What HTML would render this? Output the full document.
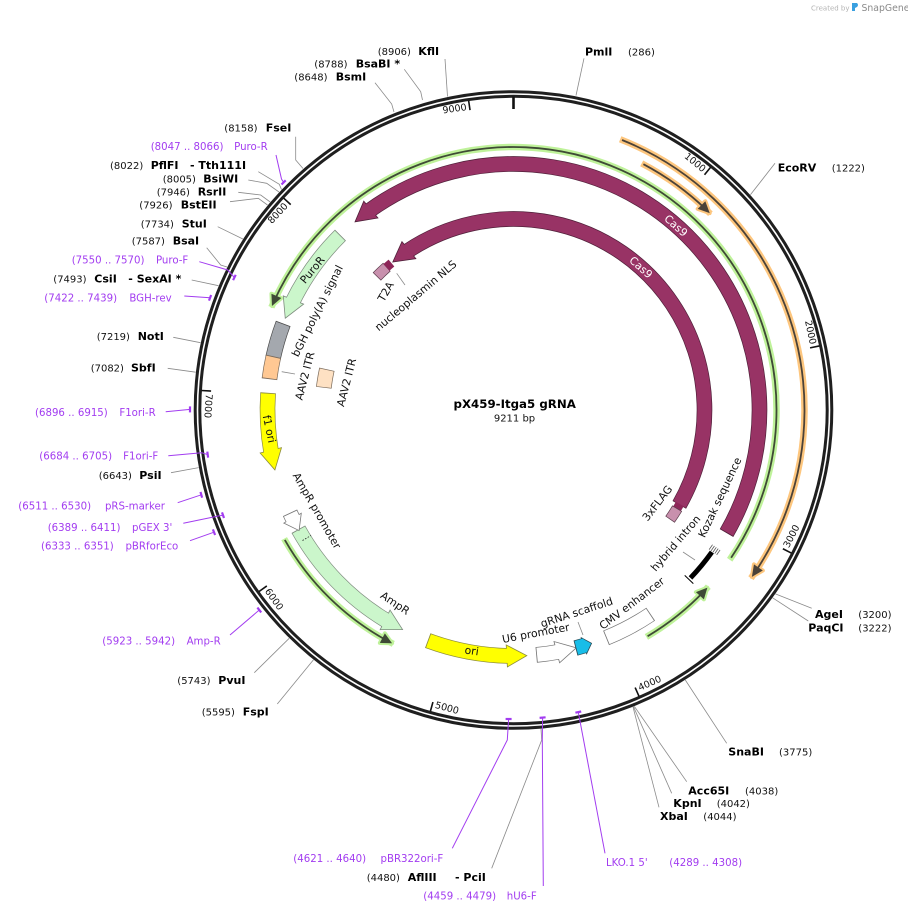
<!DOCTYPE html>
<html><head><meta charset="utf-8"><style>
html,body{margin:0;padding:0;background:#fff;}
svg{display:block;}
text{font-family:"DejaVu Sans","Liberation Sans",sans-serif;}
.n{font-size:10px;fill:#111;}
.b{font-size:11px;font-weight:bold;fill:#000;}
.p{font-size:10.2px;fill:#a23cf0;}
.f{font-size:10.8px;fill:#111;}
.w{font-size:10.8px;fill:#fff;}
.t{font-size:9.5px;fill:#111;}
.ld{fill:none;stroke:#8a8a8a;stroke-width:0.8;}
.lp{fill:none;stroke:#a23cf0;stroke-width:1;}
.pm{stroke:#a23cf0;stroke-width:2.2;}
.tk{stroke:#111;stroke-width:1.6;}
</style></head><body>
<svg width="908" height="914" viewBox="0 0 908 914" xmlns="http://www.w3.org/2000/svg">
<rect width="908" height="914" fill="#fff"/>

<!-- header -->
<text x="811" y="10.5" style="font-size:7px;fill:#b4b4b4">Created by</text>
<path d="M852,3 L857,3 Q859,5 857,7 L855,8 L855,11 L852,11 Z" fill="#3aa0e0"/>
<text x="861.5" y="11" style="font-size:9.3px;fill:#8a8a8a">SnapGene</text>

<!-- ORF halos / lines (green r=263) -->
<g fill="none">
<circle cx="513.5" cy="410" r="263" stroke="#bff29a" stroke-width="6.5" stroke-dasharray="879.94 2000" transform="rotate(203.0 513.5 410)"/>
<circle cx="513.5" cy="410" r="263" stroke="#bff29a" stroke-width="6.5" stroke-dasharray="153.77 2000" transform="rotate(117.2 513.5 410)"/>
<circle cx="513.5" cy="410" r="263" stroke="#bff29a" stroke-width="6.5" stroke-dasharray="80.1 2000" transform="rotate(42.2 513.5 410)"/>
<circle cx="513.5" cy="410" r="291" stroke="#fdc67e" stroke-width="6.5" stroke-dasharray="527.19 2000" transform="rotate(-68.5 513.5 410)"/>
<circle cx="513.5" cy="410" r="278" stroke="#fdc67e" stroke-width="6.5" stroke-dasharray="85.59 2000" transform="rotate(-62.54 513.5 410)"/>
</g>
<g stroke-linejoin="round">
<polygon points="513.5,147 524.5,141.7 524.5,152.5" fill="#bff29a" stroke="#bff29a" stroke-width="4" transform="rotate(293.3 513.5 410)"/>
<polygon points="513.5,147 524.5,141.7 524.5,152.5" fill="#bff29a" stroke="#bff29a" stroke-width="4" transform="rotate(207.5 513.5 410)"/>
<polygon points="513.5,147 524.5,141.7 524.5,152.5" fill="#bff29a" stroke="#bff29a" stroke-width="4" transform="rotate(132.5 513.5 410)"/>
<polygon points="513.5,119 502,113.7 502,124.5" fill="#fdc67e" stroke="#fdc67e" stroke-width="4" transform="rotate(125 513.5 410)"/>
<polygon points="513.5,132 502,126.7 502,137.5" fill="#fdc67e" stroke="#fdc67e" stroke-width="4" transform="rotate(44.9 513.5 410)"/>
</g>
<g fill="none">
<circle cx="513.5" cy="410" r="263" stroke="#3f4a36" stroke-width="1.8" stroke-dasharray="871.45 2000" transform="rotate(204.3 513.5 410)"/>
<circle cx="513.5" cy="410" r="263" stroke="#3f4a36" stroke-width="1.8" stroke-dasharray="146.43 2000" transform="rotate(118.5 513.5 410)"/>
<circle cx="513.5" cy="410" r="263" stroke="#3f4a36" stroke-width="1.8" stroke-dasharray="72.75 2000" transform="rotate(43.5 513.5 410)"/>
<circle cx="513.5" cy="410" r="291" stroke="#4b4238" stroke-width="1.8" stroke-dasharray="518.56 2000" transform="rotate(-68.1 513.5 410)"/>
<circle cx="513.5" cy="410" r="278" stroke="#4b4238" stroke-width="1.8" stroke-dasharray="77.83 2000" transform="rotate(-62.14 513.5 410)"/>
</g>
<g>
<polygon points="513.5,147 524.5,141.7 524.5,152.5" fill="#3f4a36" transform="rotate(293.3 513.5 410)"/>
<polygon points="513.5,147 524.5,141.7 524.5,152.5" fill="#3f4a36" transform="rotate(207.5 513.5 410)"/>
<polygon points="513.5,147 524.5,141.7 524.5,152.5" fill="#3f4a36" transform="rotate(132.5 513.5 410)"/>
<polygon points="513.5,119 502,113.7 502,124.5" fill="#4b4238" transform="rotate(125 513.5 410)"/>
<polygon points="513.5,132 502,126.7 502,137.5" fill="#4b4238" transform="rotate(44.9 513.5 410)"/>
</g>

<!-- Track A features r=246 -->
<g fill="none">
<circle cx="513.5" cy="410" r="246" stroke="#50203a" stroke-width="15.6" stroke-dasharray="669.53 2000" transform="rotate(234.06 513.5 410)"/>
<polygon points="513.5,164 533.5,153.8 533.5,175.8" fill="#983365" stroke="#50203a" stroke-width="0.8" transform="rotate(319.9 513.5 410)"/>
<circle cx="513.5" cy="410" r="246" stroke="#983365" stroke-width="14.2" stroke-dasharray="668.67 2000" transform="rotate(234.06 513.5 410)"/>
<circle cx="513.5" cy="410" r="246" stroke="#7d8b7d" stroke-width="15.6" stroke-dasharray="82.61 2000" transform="rotate(206.06 513.5 410)"/>
<polygon points="513.5,164 533.5,153.8 533.5,175.8" fill="#cbf6cb" stroke="#7d8b7d" stroke-width="0.8" transform="rotate(291.9 513.5 410)"/>
<circle cx="513.5" cy="410" r="246" stroke="#cbf6cb" stroke-width="14.2" stroke-dasharray="81.75 2000" transform="rotate(206.06 513.5 410)"/>
<circle cx="513.5" cy="410" r="246" stroke="#4a4a4a" stroke-width="15.6" stroke-dasharray="36.07 2000" transform="rotate(192.2 513.5 410)"/>
<circle cx="513.5" cy="410" r="246" stroke="#a4a8ae" stroke-width="14.2" stroke-dasharray="34.35 2000" transform="rotate(192.4 513.5 410)"/>
<circle cx="513.5" cy="410" r="246" stroke="#7a6a5a" stroke-width="15.6" stroke-dasharray="23.18 2000" transform="rotate(187.2 513.5 410)"/>
<circle cx="513.5" cy="410" r="246" stroke="#ffc893" stroke-width="14.2" stroke-dasharray="21.47 2000" transform="rotate(187.4 513.5 410)"/>
<circle cx="513.5" cy="410" r="246" stroke="#8c8c3c" stroke-width="15.6" stroke-dasharray="59.85 2000" transform="rotate(170.06 513.5 410)"/>
<polygon points="513.5,164 533.5,153.8 533.5,175.8" fill="#ffff00" stroke="#8c8c3c" stroke-width="0.8" transform="rotate(255.9 513.5 410)"/>
<circle cx="513.5" cy="410" r="246" stroke="#ffff00" stroke-width="14.2" stroke-dasharray="58.99 2000" transform="rotate(170.06 513.5 410)"/>
<circle cx="513.5" cy="410" r="246" stroke="#7d8b7d" stroke-width="15.6" stroke-dasharray="128.81 2000" transform="rotate(121.0 513.5 410)"/>
<polygon points="513.5,164 533.5,153.8 533.5,175.8" fill="#cbf6cb" stroke="#7d8b7d" stroke-width="0.8" transform="rotate(206.8 513.5 410)"/>
<circle cx="513.5" cy="410" r="246" stroke="#cbf6cb" stroke-width="14.2" stroke-dasharray="127.95 2000" transform="rotate(121.0 513.5 410)"/>
<circle cx="513.5" cy="410" r="246" stroke="#777" stroke-width="15.6" stroke-dasharray="8.11 2000" transform="rotate(153.41 513.5 410)"/>
<polygon points="513.5,164 527.5,154.4 527.5,174.4" fill="#fff" stroke="#777" stroke-width="0.8" transform="rotate(240.65 513.5 410)"/>
<circle cx="513.5" cy="410" r="246" stroke="#fff" stroke-width="14.2" stroke-dasharray="7.26 2000" transform="rotate(153.41 513.5 410)"/>
<circle cx="513.5" cy="410" r="246" stroke="#8c8c3c" stroke-width="15.6" stroke-dasharray="83.04 2000" transform="rotate(91.06 513.5 410)"/>
<polygon points="513.5,164 533.5,153.8 533.5,175.8" fill="#ffff00" stroke="#8c8c3c" stroke-width="0.8" transform="rotate(176.9 513.5 410)"/>
<circle cx="513.5" cy="410" r="246" stroke="#ffff00" stroke-width="14.2" stroke-dasharray="82.18 2000" transform="rotate(91.06 513.5 410)"/>
<circle cx="513.5" cy="410" r="246" stroke="#777" stroke-width="15.6" stroke-dasharray="22.93 2000" transform="rotate(79.36 513.5 410)"/>
<polygon points="513.5,164 533.5,153.8 533.5,175.8" fill="#fff" stroke="#777" stroke-width="0.8" transform="rotate(165.2 513.5 410)"/>
<circle cx="513.5" cy="410" r="246" stroke="#fff" stroke-width="14.2" stroke-dasharray="22.07 2000" transform="rotate(79.36 513.5 410)"/>
<circle cx="513.5" cy="410" r="246" stroke="#2a4a55" stroke-width="15.6" stroke-dasharray="10.05 2000" transform="rotate(73.06 513.5 410)"/>
<polygon points="513.5,164 521.5,155.6 521.5,172.6" fill="#18bde8" stroke="#2a4a55" stroke-width="0.8" transform="rotate(161.5 513.5 410)"/>
<circle cx="513.5" cy="410" r="246" stroke="#18bde8" stroke-width="14.2" stroke-dasharray="9.19 2000" transform="rotate(73.06 513.5 410)"/>
<circle cx="513.5" cy="410" r="246" stroke="#777" stroke-width="15.6" stroke-dasharray="50.66 2000" transform="rotate(56.1 513.5 410)"/>
<circle cx="513.5" cy="410" r="246" stroke="#fff" stroke-width="14.2" stroke-dasharray="48.95 2000" transform="rotate(56.3 513.5 410)"/>
<circle cx="513.5" cy="410" r="244" stroke="#000" stroke-width="5" stroke-dasharray="33.64 2000" transform="rotate(35.6 513.5 410)"/>
</g>
<line x1="513.5" y1="160" x2="513.5" y2="172" stroke="#000" stroke-width="1" transform="rotate(134 513.5 410)"/>
<g stroke="#555" stroke-width="0.8" transform="rotate(124.8 513.5 410)">
<line x1="510.5" y1="160.5" x2="516.5" y2="160.5"/>
<line x1="510.5" y1="162.8" x2="516.5" y2="162.8"/>
<line x1="510.5" y1="165.1" x2="516.5" y2="165.1"/>
<line x1="510.5" y1="167.4" x2="516.5" y2="167.4"/>
<line x1="510.5" y1="169.7" x2="516.5" y2="169.7"/>
</g>
<line x1="302.5" y1="540.5" x2="311" y2="535.5" stroke="#222" stroke-width="0.8" stroke-dasharray="1.5 1.5"/>

<!-- Track B r=191 -->
<g fill="none">
<circle cx="513.5" cy="410" r="191" stroke="#50203a" stroke-width="15.6" stroke-dasharray="511.37 2000" transform="rotate(236.3 513.5 410)"/>
<polygon points="513.5,219 533.5,209 533.5,231" fill="#983365" stroke="#50203a" stroke-width="0.8" transform="rotate(320.8 513.5 410)"/>
<circle cx="513.5" cy="410" r="191" stroke="#983365" stroke-width="14.2" stroke-dasharray="510.71 2000" transform="rotate(236.3 513.5 410)"/>
<circle cx="513.5" cy="410" r="191" stroke="#5a3a4a" stroke-width="11.4" stroke-dasharray="14.0 2000" transform="rotate(224.3 513.5 410)"/>
<circle cx="513.5" cy="410" r="191" stroke="#c890ad" stroke-width="10" stroke-dasharray="12.67 2000" transform="rotate(224.5 513.5 410)"/>
<circle cx="513.5" cy="410" r="191" stroke="#8d2558" stroke-width="9" stroke-dasharray="6.67 2000" transform="rotate(228.3 513.5 410)"/>
<circle cx="513.5" cy="410" r="191" stroke="#7a6a5a" stroke-width="15.6" stroke-dasharray="18.67 2000" transform="rotate(186.7 513.5 410)"/>
<circle cx="513.5" cy="410" r="191" stroke="#fee1c3" stroke-width="14.2" stroke-dasharray="17.33 2000" transform="rotate(186.9 513.5 410)"/>
<circle cx="513.5" cy="410" r="191" stroke="#8d2558" stroke-width="9" stroke-dasharray="5.67 2000" transform="rotate(29.5 513.5 410)"/>
<circle cx="513.5" cy="410" r="191" stroke="#5a3a4a" stroke-width="11.4" stroke-dasharray="13.33 2000" transform="rotate(31.0 513.5 410)"/>
<circle cx="513.5" cy="410" r="191" stroke="#c890ad" stroke-width="10" stroke-dasharray="12.0 2000" transform="rotate(31.2 513.5 410)"/>
</g>

<!-- backbone ring -->
<circle cx="513.5" cy="410" r="316" fill="none" stroke="#1f1f1f" stroke-width="7.6"/>
<circle cx="513.5" cy="410" r="316" fill="none" stroke="#fff" stroke-width="1.6"/>

<!-- ticks -->
<line x1="513.5" y1="96.5" x2="513.5" y2="109" stroke="#111" stroke-width="2.6"/>
<g class="tk">
<line x1="513.5" y1="97.5" x2="513.5" y2="107" transform="rotate(39.08 513.5 410)"/>
<line x1="513.5" y1="97.5" x2="513.5" y2="107" transform="rotate(78.17 513.5 410)"/>
<line x1="513.5" y1="97.5" x2="513.5" y2="107" transform="rotate(117.25 513.5 410)"/>
<line x1="513.5" y1="97.5" x2="513.5" y2="107" transform="rotate(156.33 513.5 410)"/>
<line x1="513.5" y1="97.5" x2="513.5" y2="107" transform="rotate(195.42 513.5 410)"/>
<line x1="513.5" y1="97.5" x2="513.5" y2="107" transform="rotate(234.5 513.5 410)"/>
<line x1="513.5" y1="97.5" x2="513.5" y2="107" transform="rotate(273.58 513.5 410)"/>
<line x1="513.5" y1="97.5" x2="513.5" y2="107" transform="rotate(312.67 513.5 410)"/>
<line x1="513.5" y1="97.5" x2="513.5" y2="107" transform="rotate(351.75 513.5 410)"/>
</g>
<g class="t">
<text transform="rotate(39.08 513.5 410)" x="510.5" y="106.5" text-anchor="end">1000</text>
<text transform="rotate(78.17 513.5 410)" x="510.5" y="106.5" text-anchor="end">2000</text>
<text transform="rotate(312.67 513.5 410)" x="510.5" y="106.5" text-anchor="end">8000</text>
<text transform="rotate(351.75 513.5 410)" x="510.5" y="106.5" text-anchor="end">9000</text>
<text transform="rotate(-62.75 513.5 410)" x="516.5" y="718">3000</text>
<text transform="rotate(-23.67 513.5 410)" x="516.5" y="718">4000</text>
<text transform="rotate(15.42 513.5 410)" x="516.5" y="718">5000</text>
<text transform="rotate(54.5 513.5 410)" x="516.5" y="718">6000</text>
<text transform="rotate(93.58 513.5 410)" x="516.5" y="718">7000</text>
</g>

<!-- enzyme leader lines -->
<g class="ld">
<polyline points="445,59 447.5,96.5"/>
<polyline points="404.3,69.3 420.7,91.7 422.5,100"/>
<polyline points="375,82.7 391.7,104 394,112"/>
<polyline points="584,58.3 576,95.5"/>
<polyline points="295.7,136.7 295.7,160 303,168.5"/>
<polyline points="258.3,171.7 279.3,184.3 281.5,189.5"/>
<polyline points="248.3,180 266.7,183.3 279,192"/>
<polyline points="238.3,192.3 260.7,195 270.2,202"/>
<polyline points="230,201.7 258.3,198.3 267.5,205"/>
<polyline points="217.7,226.7 242.9,239"/>
<polyline points="206.7,247.7 220.7,265 227,267"/>
<polyline points="191.7,280 218.5,285.7"/>
<polyline points="173.3,337.3 200.5,342.7"/>
<polyline points="167.7,368.3 195.7,372.2"/>
<polyline points="171,472.7 198.7,467.6"/>
<polyline points="254.3,672.7 289.2,638.3"/>
<polyline points="277.3,704 313.5,659.8"/>
<polyline points="491.7,868.3 541.7,740 541,728.8"/>
<polyline points="659,807.3 633,707"/>
<polyline points="671.7,793.3 633.5,706.7"/>
<polyline points="686.7,781.7 634.3,706.3"/>
<polyline points="726.7,743.3 685.3,680"/>
<polyline points="811.7,608.3 775.4,593.9"/>
<polyline points="808.3,621 772.6,597.8"/>
<polyline points="775,163.3 750.4,194.8"/>
<polyline points="281.7,371.7 295,374"/>
<polyline points="683,552 695,560"/>
<polyline points="578,622 583,635"/>
<polyline points="396.7,273.3 405,285"/>
</g>

<!-- primer leaders and marks -->
<g class="lp">
<polyline points="276,155 281.5,179 283.6,182.4"/>
<polyline points="199.3,261.7 227.7,270 234.4,277.5"/>
<polyline points="184.3,296 210.1,297.8"/>
<polyline points="165.7,411.7 190,409.4"/>
<polyline points="168.3,455.7 201.7,452.7 207.7,454.6"/>
<polyline points="177.7,502.7 201.3,494.8"/>
<polyline points="183.3,523.3 218.3,516 223,515.2"/>
<polyline points="190,540.7 214,532.2"/>
<polyline points="230,635 259.3,610"/>
<polyline points="452.3,848.3 507.3,740 508.6,719"/>
<polyline points="543.3,886 542.3,740 542.6,717.6"/>
<polyline points="605,853.3 578.3,712.1"/>
</g>
<g class="pm">
<line x1="281.5" y1="184.5" x2="285.7" y2="180.3"/>
<line x1="233.1" y1="280.2" x2="235.7" y2="274.8"/>
<line x1="209" y1="300.6" x2="211.1" y2="295"/>
<line x1="190" y1="412.4" x2="190" y2="406.4"/>
<line x1="208.1" y1="457.6" x2="207.3" y2="451.6"/>
<line x1="202.1" y1="497.7" x2="200.5" y2="491.9"/>
<line x1="224" y1="518" x2="222" y2="512.4"/>
<line x1="215.1" y1="535" x2="212.9" y2="529.4"/>
<line x1="261.2" y1="612.4" x2="257.4" y2="607.6"/>
<line x1="511.6" y1="719" x2="505.6" y2="719"/>
<line x1="545.6" y1="717.3" x2="539.6" y2="717.9"/>
<line x1="581.2" y1="711.5" x2="575.4" y2="712.7"/>
</g>

<!-- enzyme labels -->
<text class="n" x="377.7" y="55">(8906)</text><text class="b" x="418.3" y="55">KflI</text>
<text class="n" x="314.3" y="67.5">(8788)</text><text class="b" x="355.7" y="67.5">BsaBI *</text>
<text class="n" x="294.3" y="80.5">(8648)</text><text class="b" x="335.7" y="80.5">BsmI</text>
<text class="b" x="585" y="55.5">PmlI</text><text class="n" x="628" y="55.5">(286)</text>
<text class="n" x="224.3" y="131.5">(8158)</text><text class="b" x="265.7" y="131.5">FseI</text>
<text class="p" x="150.7" y="150">(8047 .. 8066)</text><text class="p" x="267.7" y="150" text-anchor="end">Puro-R</text>
<text class="n" x="110" y="169">(8022)</text><text class="b" x="150.7" y="169">PflFI</text><text class="b" x="190" y="169">- Tth111I</text>
<text class="n" x="162.7" y="182.5">(8005)</text><text class="b" x="203.3" y="182.5">BsiWI</text>
<text class="n" x="156.7" y="195.5">(7946)</text><text class="b" x="197.7" y="195.5">RsrII</text>
<text class="n" x="139.3" y="208.5">(7926)</text><text class="b" x="180.7" y="208.5">BstEII</text>
<text class="n" x="140.7" y="227.5">(7734)</text><text class="b" x="181.7" y="227.5">StuI</text>
<text class="n" x="131.7" y="244.5">(7587)</text><text class="b" x="172.7" y="244.5">BsaI</text>
<text class="p" x="71.7" y="263.5">(7550 .. 7570)</text><text class="p" x="188.3" y="263.5" text-anchor="end">Puro-F</text>
<text class="n" x="53.3" y="282.5">(7493)</text><text class="b" x="94.3" y="282.5">CsiI</text><text class="b" x="128.3" y="282.5">- SexAI *</text>
<text class="p" x="44.3" y="301.5">(7422 .. 7439)</text><text class="p" x="171.7" y="301.5" text-anchor="end">BGH-rev</text>
<text class="n" x="96.7" y="340">(7219)</text><text class="b" x="137.7" y="340">NotI</text>
<text class="n" x="90.7" y="371.5">(7082)</text><text class="b" x="131" y="371.5">SbfI</text>
<text class="p" x="35" y="416">(6896 .. 6915)</text><text class="p" x="155.7" y="416" text-anchor="end">F1ori-R</text>
<text class="p" x="39.3" y="459.5">(6684 .. 6705)</text><text class="p" x="158.3" y="459.5" text-anchor="end">F1ori-F</text>
<text class="n" x="98.7" y="479">(6643)</text><text class="b" x="139.3" y="479">PsiI</text>
<text class="p" x="18.3" y="509.5">(6511 .. 6530)</text><text class="p" x="165" y="509.5" text-anchor="end">pRS-marker</text>
<text class="p" x="47.7" y="531">(6389 .. 6411)</text><text class="p" x="172.3" y="531" text-anchor="end">pGEX 3'</text>
<text class="p" x="41" y="549.5">(6333 .. 6351)</text><text class="p" x="178.3" y="549.5" text-anchor="end">pBRforEco</text>
<text class="p" x="102.3" y="644.5">(5923 .. 5942)</text><text class="p" x="220.7" y="644.5" text-anchor="end">Amp-R</text>
<text class="n" x="177.3" y="684">(5743)</text><text class="b" x="218.3" y="684">PvuI</text>
<text class="n" x="201.7" y="715.5">(5595)</text><text class="b" x="242.7" y="715.5">FspI</text>
<text class="p" x="293.3" y="862">(4621 .. 4640)</text><text class="p" x="443.3" y="862" text-anchor="end">pBR322ori-F</text>
<text class="n" x="366.7" y="881">(4480)</text><text class="b" x="407.7" y="881">AflIII</text><text class="b" x="455" y="881">- PciI</text>
<text class="p" x="423.3" y="899.5">(4459 .. 4479)</text><text class="p" x="536.7" y="899.5" text-anchor="end">hU6-F</text>
<text class="p" x="606" y="866">LKO.1 5'</text><text class="p" x="669.3" y="866">(4289 .. 4308)</text>
<text class="b" x="660" y="820">XbaI</text><text class="n" x="703.3" y="820">(4044)</text>
<text class="b" x="673.3" y="807">KpnI</text><text class="n" x="716.7" y="807">(4042)</text>
<text class="b" x="688.3" y="794.5">Acc65I</text><text class="n" x="745" y="794.5">(4038)</text>
<text class="b" x="728.3" y="755.5">SnaBI</text><text class="n" x="779" y="755.5">(3775)</text>
<text class="b" x="815" y="618">AgeI</text><text class="n" x="858.3" y="618">(3200)</text>
<text class="b" x="808.3" y="631.5">PaqCI</text><text class="n" x="858.3" y="631.5">(3222)</text>
<text class="b" x="777.7" y="171.5">EcoRV</text><text class="n" x="831.7" y="171.5">(1222)</text>

<!-- feature labels -->
<g text-anchor="middle" dominant-baseline="central">
<text class="f" transform="translate(312.5,270) rotate(-50.2)">PuroR</text>
<text class="f" transform="translate(317.5,311) rotate(-63.4)">bGH poly(A) signal</text>
<text class="f" transform="translate(305,376) rotate(-75.5)">AAV2 ITR</text>
<text class="f" transform="translate(346.7,382.5) rotate(-75.5)">AAV2 ITR</text>
<text class="f" transform="translate(269,429) rotate(78)">f1 ori</text>
<text class="f" transform="translate(386,291.7) rotate(-59.7)">T2A</text>
<text class="f" transform="translate(415.8,295.8) rotate(-40.1)">nucleoplasmin NLS</text>
<text class="f" transform="translate(316.7,510.8) rotate(60.2)">AmpR promoter</text>
<text class="f" transform="translate(395,603.3) rotate(33.7)">AmpR</text>
<text class="f" transform="translate(471.7,651) rotate(8)">ori</text>
<text class="f" transform="translate(535.8,633.3) rotate(-10.5)">U6 promoter</text>
<text class="f" transform="translate(576.7,612.5) rotate(-18)">gRNA scaffold</text>
<text class="f" transform="translate(632,603.5) rotate(-37.3)">CMV enhancer</text>
<text class="f" transform="translate(675.8,543.3) rotate(-49.3)">hybrid intron</text>
<text class="f" transform="translate(720,497.5) rotate(-64.8)">Kozak sequence</text>
<text class="f" transform="translate(657.5,503.3) rotate(-52.3)">3xFLAG</text>
<text class="w" transform="translate(675.8,225.8) rotate(41.4)">Cas9</text>
<text class="w" transform="translate(640.8,267.5) rotate(41.8)">Cas9</text>
</g>

<!-- title -->
<text x="514.7" y="408" text-anchor="middle" style="font-size:11.8px;font-weight:bold;fill:#000">pX459-Itga5 gRNA</text>
<text x="514.5" y="421.5" text-anchor="middle" class="n">9211 bp</text>
</svg>
</body></html>
